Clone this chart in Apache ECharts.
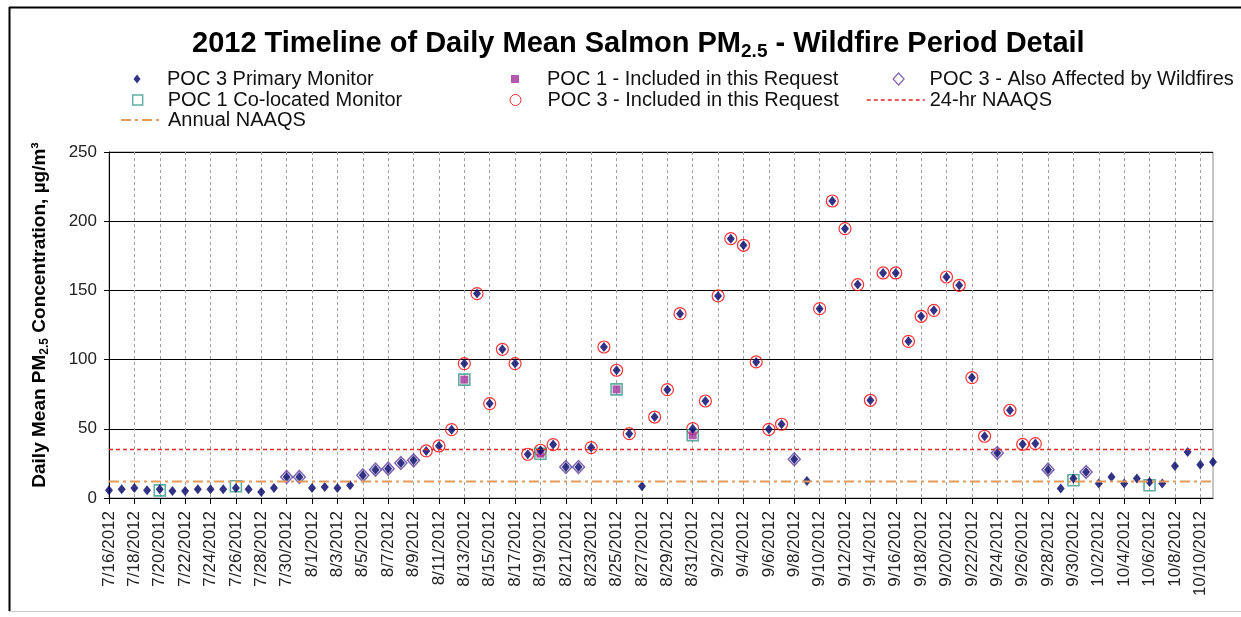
<!DOCTYPE html>
<html>
<head>
<meta charset="utf-8">
<script src="https://cdn.jsdelivr.net/npm/echarts@6/dist/echarts.min.js"></script>
<style>
  html, body { margin: 0; padding: 0; background: #fff; }
  #chart { width: 1241px; height: 617px; }
</style>
</head>
<body>
<div id="chart"></div>
<script>
// Sampling days, 7/16/2012 through 10/11/2012
const dates = [
  '7/16/2012','7/17/2012','7/18/2012','7/19/2012','7/20/2012','7/21/2012','7/22/2012','7/23/2012',
  '7/24/2012','7/25/2012','7/26/2012','7/27/2012','7/28/2012','7/29/2012','7/30/2012','7/31/2012',
  '8/1/2012','8/2/2012','8/3/2012','8/4/2012','8/5/2012','8/6/2012','8/7/2012','8/8/2012',
  '8/9/2012','8/10/2012','8/11/2012','8/12/2012','8/13/2012','8/14/2012','8/15/2012','8/16/2012',
  '8/17/2012','8/18/2012','8/19/2012','8/20/2012','8/21/2012','8/22/2012','8/23/2012','8/24/2012',
  '8/25/2012','8/26/2012','8/27/2012','8/28/2012','8/29/2012','8/30/2012','8/31/2012',
  '9/1/2012','9/2/2012','9/3/2012','9/4/2012','9/5/2012','9/6/2012','9/7/2012','9/8/2012',
  '9/9/2012','9/10/2012','9/11/2012','9/12/2012','9/13/2012','9/14/2012','9/15/2012','9/16/2012',
  '9/17/2012','9/18/2012','9/19/2012','9/20/2012','9/21/2012','9/22/2012','9/23/2012','9/24/2012',
  '9/25/2012','9/26/2012','9/27/2012','9/28/2012','9/29/2012','9/30/2012',
  '10/1/2012','10/2/2012','10/3/2012','10/4/2012','10/5/2012','10/6/2012','10/7/2012','10/8/2012',
  '10/9/2012','10/10/2012','10/11/2012'
];

// POC 3 primary monitor, daily mean PM2.5 (ug/m3), one value per day
const poc3Primary = [
  5.6, 6.3, 7.2, 5.6, 6.3, 5.1, 5.1, 6.3, 6.3, 6.3, 7.2, 6.3, 4.4, 7.2, 15.2, 15.2,
  7.2, 8.0, 7.2, 9.2, 16.4, 20.5, 21.2, 25.3, 27.2, 34.0, 37.6, 49.4, 97.1, 147.7, 68.2, 107.4,
  97.1, 31.6, 34.5, 38.6, 22.4, 22.4, 36.4, 109.1, 92.3, 46.5, 8.5, 58.5, 78.3, 133.2, 50.1,
  70.1, 146.0, 187.4, 182.6, 98.3, 49.6, 53.3, 28.0, 12.3, 136.8, 214.6, 194.6, 154.2, 70.6, 162.6, 162.6,
  113.2, 131.3, 135.6, 159.7, 153.7, 87.0, 44.6, 32.5, 63.4, 38.8, 39.3, 20.5, 6.8, 14.0,
  18.8, 10.4, 15.2, 10.4, 14.0, 11.6, 10.4, 23.1, 33.2, 24.1, 26.0
];

// POC 1 co-located sampler (1-in-6 day schedule)
const poc1Colocated = [
  ['7/20/2012', 5.5], ['7/26/2012', 8.5], ['8/13/2012', 85.5], ['8/19/2012', 32.0],
  ['8/25/2012', 78.5], ['8/31/2012', 45.3], ['9/30/2012', 12.8], ['10/6/2012', 9.2]
];

// POC 1 days included in the exceptional-event request
const poc1Included = [
  ['8/13/2012', 85.5], ['8/19/2012', 32.0], ['8/25/2012', 78.5], ['8/31/2012', 45.3]
];

// POC 3 days included in the request
const poc3IncludedDays = [
  '8/10/2012','8/11/2012','8/12/2012','8/13/2012','8/14/2012','8/15/2012','8/16/2012','8/17/2012',
  '8/18/2012','8/19/2012','8/20/2012','8/23/2012','8/24/2012','8/25/2012','8/26/2012',
  '8/28/2012','8/29/2012','8/30/2012','8/31/2012','9/1/2012','9/2/2012','9/3/2012','9/4/2012',
  '9/5/2012','9/6/2012','9/7/2012','9/10/2012','9/11/2012','9/12/2012','9/13/2012','9/14/2012',
  '9/15/2012','9/16/2012','9/17/2012','9/18/2012','9/19/2012','9/20/2012','9/21/2012','9/22/2012',
  '9/23/2012','9/25/2012','9/26/2012','9/27/2012'
];

// POC 3 days also affected by wildfire smoke, not in the request
const poc3AlsoAffectedDays = [
  '7/30/2012','7/31/2012','8/5/2012','8/6/2012','8/7/2012','8/8/2012','8/9/2012',
  '8/21/2012','8/22/2012','9/8/2012','9/24/2012','9/28/2012','10/1/2012'
];

// Standards
const naaqs24hr = 35;
const naaqsAnnual = 12;

// Y axis range
const yMin = 0, yMax = 250, yStep = 50;

const FONT = 'Liberation Sans, Arial, sans-serif';

const onPrimary = days => days.map(d => [d, poc3Primary[dates.indexOf(d)]]);
const acrossAllDays = v => [[dates[0], v], [dates[dates.length - 1], v]];

function legendEntry(name, left, rowY, w, h, textOffset, extra) {
  return {
    left: left, top: rowY - 11, padding: 0,
    itemWidth: w, itemHeight: h,
    selectedMode: false,
    textStyle: { fontFamily: FONT, fontSize: 20, color: '#111', lineHeight: 22,
                 padding: [0, 0, 0, textOffset] },
    data: [Object.assign({ name: name }, extra)]
  };
}

const C_PRIMARY = '#000066';
const C_COLOC = '#3a9a88';
const C_INCL1 = '#a0309a';
const C_INCL3 = '#ff0000';
const C_ALSO = '#5e3c9a';
const C_24HR = '#e02828';
const C_ANNUAL = '#e49a58';

const ROW1 = 79, ROW2 = 100, ROW3 = 120;

const chart = echarts.init(document.getElementById('chart'), null, { renderer: 'canvas' });

chart.setOption({
  backgroundColor: '#fff',
  animation: false,
  title: {
    left: 192, top: 27, padding: 0,
    text: '2012 Timeline of Daily Mean Salmon PM{sub|2.5} - Wildfire Period Detail',
    textStyle: {
      fontFamily: FONT, fontSize: 29, fontWeight: 'bold', color: '#000', lineHeight: 34,
      rich: { sub: { fontFamily: FONT, fontSize: 19, fontWeight: 'bold', color: '#000',
                     lineHeight: 14, verticalAlign: 'bottom' } }
    }
  },
  legend: [
    legendEntry('POC 3 Primary Monitor', 133.5, ROW1, 7, 9, 21.5,
      { icon: 'diamond', itemStyle: { color: C_PRIMARY, borderWidth: 0 } }),
    legendEntry('POC 1 Co-located Monitor', 132, ROW2, 10, 10, 20,
      { icon: 'rect', itemStyle: { color: 'rgba(0,0,0,0)', borderColor: C_COLOC, borderWidth: 1.4 } }),
    legendEntry('Annual NAAQS', 120, ROW3, 42, 10, 0,
      { itemStyle: { opacity: 0 }, lineStyle: { color: C_ANNUAL, width: 2, type: [10, 4, 3, 4] } }),
    legendEntry('POC 1 - Included in this Request', 511, ROW1, 8, 8, 23,
      { icon: 'rect', itemStyle: { color: C_INCL1, borderWidth: 0 } }),
    legendEntry('POC 3 - Included in this Request', 509.5, ROW2, 11, 11, 21.5,
      { icon: 'circle', itemStyle: { color: 'rgba(0,0,0,0)', borderColor: C_INCL3, borderWidth: 1 } }),
    legendEntry('POC 3 - Also Affected by Wildfires', 892.5, ROW1, 11, 12, 20.5,
      { icon: 'diamond', itemStyle: { color: 'rgba(0,0,0,0)', borderColor: C_ALSO, borderWidth: 1.2 } }),
    legendEntry('24-hr NAAQS', 866, ROW2, 58, 10, 0,
      { itemStyle: { opacity: 0 }, lineStyle: { color: C_24HR, width: 1.5, type: [4, 3] } })
  ],
  grid: {
    left: 109, right: 28, top: 152, bottom: 119,
    show: true, borderColor: '#8c8c8c', borderWidth: 1
  },
  xAxis: {
    type: 'category',
    data: dates,
    boundaryGap: false,
    axisLine: { lineStyle: { color: '#000', width: 1 } },
    axisTick: { interval: 1, length: 6, lineStyle: { color: '#000' } },
    axisLabel: { interval: 1, rotate: 90, margin: 13, fontFamily: FONT, fontSize: 17, color: '#222' },
    splitLine: { show: true, interval: 1, lineStyle: { color: '#a0a0a0', type: [3, 3], width: 1 } }
  },
  yAxis: {
    type: 'value',
    min: yMin, max: yMax, interval: yStep,
    name: 'Daily Mean PM{sub|2.5} Concentration, µg/m³',
    nameLocation: 'middle',
    nameGap: 58,
    nameTextStyle: {
      fontFamily: FONT, fontSize: 19, fontWeight: 'bold', color: '#000', lineHeight: 22,
      padding: [0, 0, 0, 20],
      rich: { sub: { fontFamily: FONT, fontSize: 12, fontWeight: 'bold', color: '#000',
                     lineHeight: 12, verticalAlign: 'bottom' } }
    },
    axisLine: { show: true, lineStyle: { color: '#000', width: 1 } },
    axisTick: { show: true, length: 5, lineStyle: { color: '#000' } },
    axisLabel: { margin: 12, fontFamily: FONT, fontSize: 17, color: '#222' },
    splitLine: { show: true, lineStyle: { color: '#000', width: 1 } }
  },
  series: [
    {
      name: 'Annual NAAQS', type: 'line', data: acrossAllDays(naaqsAnnual),
      symbol: 'none', silent: true,
      itemStyle: { color: C_ANNUAL },
      lineStyle: { color: C_ANNUAL, width: 2, type: [10, 4, 3, 4] }
    },
    {
      name: '24-hr NAAQS', type: 'line', data: acrossAllDays(naaqs24hr),
      symbol: 'none', silent: true,
      itemStyle: { color: C_24HR },
      lineStyle: { color: C_24HR, width: 1.5, type: [4, 3] }
    },
    {
      name: 'POC 3 - Included in this Request', type: 'scatter',
      data: onPrimary(poc3IncludedDays), symbol: 'circle', symbolSize: 12, silent: true,
      itemStyle: { color: 'rgba(0,0,0,0)', borderColor: C_INCL3, borderWidth: 1.2 }
    },
    {
      name: 'POC 3 - Also Affected by Wildfires', type: 'scatter',
      data: onPrimary(poc3AlsoAffectedDays), symbol: 'diamond', symbolSize: [12, 13], silent: true,
      itemStyle: { color: 'rgba(0,0,0,0)', borderColor: C_ALSO, borderWidth: 1.5 }
    },
    {
      name: 'POC 1 - Included in this Request', type: 'scatter',
      data: poc1Included, symbol: 'rect', symbolSize: 8, silent: true,
      itemStyle: { color: C_INCL1 }
    },
    {
      name: 'POC 1 Co-located Monitor', type: 'scatter',
      data: poc1Colocated, symbol: 'rect', symbolSize: 11, silent: true,
      itemStyle: { color: 'rgba(0,0,0,0)', borderColor: C_COLOC, borderWidth: 1.6 }
    },
    {
      name: 'POC 3 Primary Monitor', type: 'scatter',
      data: poc3Primary.map((v, i) => [dates[i], v]), symbol: 'diamond', symbolSize: [8, 10], silent: true,
      itemStyle: { color: C_PRIMARY }
    }
  ],
  graphic: [
    { type: 'line', silent: true, shape: { x1: 9, y1: 7.5, x2: 1241, y2: 7.5 }, style: { stroke: '#000', lineWidth: 2 } },
    { type: 'line', silent: true, shape: { x1: 9.5, y1: 7, x2: 9.5, y2: 611 }, style: { stroke: '#000', lineWidth: 2 } },
    { type: 'line', silent: true, shape: { x1: 9, y1: 611.5, x2: 1241, y2: 611.5 }, style: { stroke: '#c8c8c8', lineWidth: 1 } }
  ]
});
</script>
</body>
</html>
